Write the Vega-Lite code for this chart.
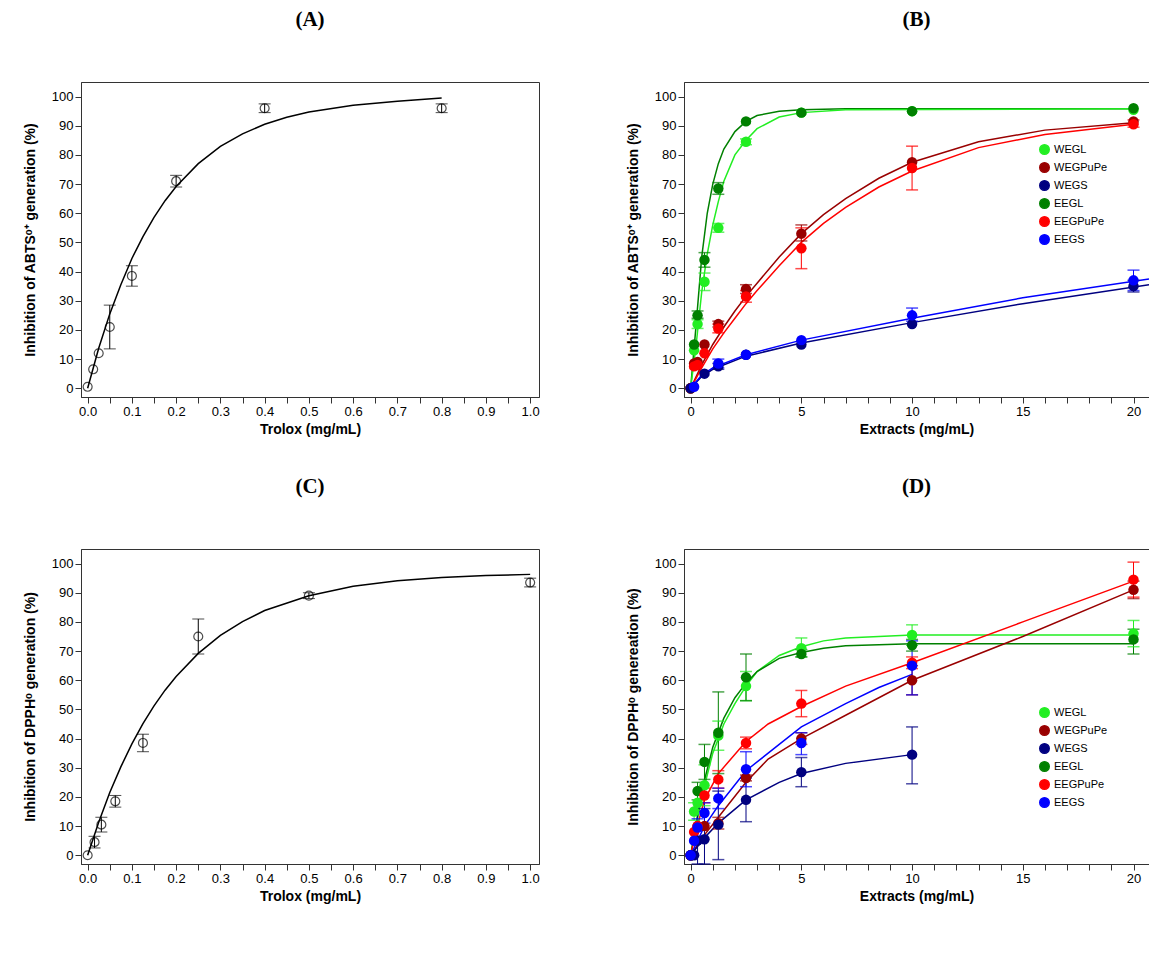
{
"$schema":"https://vega.github.io/schema/vega-lite/v6.json",
"background":"white",
"padding":{"left":22,"top":8,"right":5,"bottom":5},
"resolve":{"scale":{"color":"independent"},"legend":{"color":"independent"}},
"config":{"view":{"stroke":"#333","strokeWidth":1},"font":"Liberation Sans",
"axis":{"grid":false,"domainColor":"#333","tickColor":"#333","labelColor":"black","titleColor":"black","labelFontSize":13,"titleFontSize":14,"titleFontWeight":"bold","labelFont":"Liberation Sans","titleFont":"Liberation Sans","tickSize":6},
"axisY":{"titlePadding":14},
"title":{"font":"Liberation Serif","fontSize":21,"fontWeight":"bold","offset":52,"color":"black"}},
"spacing":38,
"datasets":{
"A":[
{"s":"T","x":0,"y":0.5,"k":"pt"},{"s":"T","x":0.0125,"y":6.5,"k":"pt"},{"s":"T","x":0.025,"y":12,"k":"pt"},{"s":"T","x":0.05,"y":21,"lo":13.5,"hi":28.5,"k":"pt"},{"s":"T","x":0.1,"y":38.5,"lo":35,"hi":42,"k":"pt"},{"s":"T","x":0.2,"y":71,"lo":69,"hi":73,"k":"pt"},{"s":"T","x":0.4,"y":96,"lo":94.5,"hi":97.5,"k":"pt"},{"s":"T","x":0.8,"y":96,"lo":94.5,"hi":97.5,"k":"pt"},
{"s":"T","x":0,"y":0,"k":"fit"},{"s":"T","x":0.025,"y":13.7,"k":"fit"},{"s":"T","x":0.05,"y":25.5,"k":"fit"},{"s":"T","x":0.075,"y":35.5,"k":"fit"},{"s":"T","x":0.1,"y":44.5,"k":"fit"},{"s":"T","x":0.125,"y":52,"k":"fit"},{"s":"T","x":0.15,"y":58.6,"k":"fit"},{"s":"T","x":0.175,"y":64.3,"k":"fit"},{"s":"T","x":0.2,"y":69.2,"k":"fit"},{"s":"T","x":0.25,"y":77,"k":"fit"},{"s":"T","x":0.3,"y":82.9,"k":"fit"},{"s":"T","x":0.35,"y":87.2,"k":"fit"},{"s":"T","x":0.4,"y":90.5,"k":"fit"},{"s":"T","x":0.45,"y":92.9,"k":"fit"},{"s":"T","x":0.5,"y":94.7,"k":"fit"},{"s":"T","x":0.6,"y":97,"k":"fit"},{"s":"T","x":0.7,"y":98.4,"k":"fit"},{"s":"T","x":0.8,"y":99.5,"k":"fit"}],
"C":[
{"s":"T","x":0,"y":0,"k":"pt"},{"s":"T","x":0.0156,"y":4.5,"lo":2.5,"hi":6.5,"k":"pt"},{"s":"T","x":0.031,"y":10.5,"lo":8,"hi":13,"k":"pt"},{"s":"T","x":0.0625,"y":18.5,"lo":16.5,"hi":20.5,"k":"pt"},{"s":"T","x":0.125,"y":38.5,"lo":35.5,"hi":41.5,"k":"pt"},{"s":"T","x":0.25,"y":75,"lo":69,"hi":81,"k":"pt"},{"s":"T","x":0.5,"y":89,"lo":88,"hi":90,"k":"pt"},{"s":"T","x":1.0,"y":93.5,"lo":92,"hi":95,"k":"pt"},
{"s":"T","x":0,"y":0,"k":"fit"},{"s":"T","x":0.025,"y":11.3,"k":"fit"},{"s":"T","x":0.05,"y":21.5,"k":"fit"},{"s":"T","x":0.075,"y":30.3,"k":"fit"},{"s":"T","x":0.1,"y":38.2,"k":"fit"},{"s":"T","x":0.125,"y":45.1,"k":"fit"},{"s":"T","x":0.15,"y":51.2,"k":"fit"},{"s":"T","x":0.175,"y":56.6,"k":"fit"},{"s":"T","x":0.2,"y":61.3,"k":"fit"},{"s":"T","x":0.25,"y":69.2,"k":"fit"},{"s":"T","x":0.3,"y":75.4,"k":"fit"},{"s":"T","x":0.35,"y":80.1,"k":"fit"},{"s":"T","x":0.4,"y":83.9,"k":"fit"},{"s":"T","x":0.5,"y":89,"k":"fit"},{"s":"T","x":0.6,"y":92.2,"k":"fit"},{"s":"T","x":0.7,"y":94.1,"k":"fit"},{"s":"T","x":0.8,"y":95.2,"k":"fit"},{"s":"T","x":0.9,"y":95.9,"k":"fit"},{"s":"T","x":1.0,"y":96.3,"k":"fit"}],
"B":[
{"s":"WEGL","x":0,"y":0,"k":"pt"},{"s":"WEGL","x":0.156,"y":13,"k":"pt"},{"s":"WEGL","x":0.3125,"y":22,"lo":20.5,"hi":23.5,"k":"pt"},{"s":"WEGL","x":0.625,"y":36.5,"lo":33.5,"hi":39.5,"k":"pt"},{"s":"WEGL","x":1.25,"y":55,"lo":53.5,"hi":56.5,"k":"pt"},{"s":"WEGL","x":2.5,"y":84.5,"lo":83.5,"hi":85.5,"k":"pt"},{"s":"WEGL","x":5,"y":94.5,"k":"pt"},{"s":"WEGL","x":10,"y":95,"k":"pt"},{"s":"WEGL","x":20,"y":95.5,"k":"pt"},
{"s":"EEGL","x":0,"y":0,"k":"pt"},{"s":"EEGL","x":0.156,"y":15,"k":"pt"},{"s":"EEGL","x":0.3125,"y":25,"lo":24,"hi":26.5,"k":"pt"},{"s":"EEGL","x":0.625,"y":44,"lo":41.5,"hi":46.5,"k":"pt"},{"s":"EEGL","x":1.25,"y":68.5,"lo":66.5,"hi":70.5,"k":"pt"},{"s":"EEGL","x":2.5,"y":91.5,"k":"pt"},{"s":"EEGL","x":5,"y":94.5,"k":"pt"},{"s":"EEGL","x":10,"y":95,"k":"pt"},{"s":"EEGL","x":20,"y":96,"k":"pt"},
{"s":"WEGPuPe","x":0,"y":0,"k":"pt"},{"s":"WEGPuPe","x":0.156,"y":8.5,"k":"pt"},{"s":"WEGPuPe","x":0.3125,"y":9,"k":"pt"},{"s":"WEGPuPe","x":0.625,"y":15,"k":"pt"},{"s":"WEGPuPe","x":1.25,"y":22,"lo":21,"hi":23,"k":"pt"},{"s":"WEGPuPe","x":2.5,"y":34,"lo":32.5,"hi":35.5,"k":"pt"},{"s":"WEGPuPe","x":5,"y":53,"lo":50.5,"hi":56,"k":"pt"},{"s":"WEGPuPe","x":10,"y":77.5,"k":"pt"},{"s":"WEGPuPe","x":20,"y":91.5,"k":"pt"},
{"s":"EEGPuPe","x":0,"y":0,"k":"pt"},{"s":"EEGPuPe","x":0.156,"y":7.5,"k":"pt"},{"s":"EEGPuPe","x":0.3125,"y":8,"k":"pt"},{"s":"EEGPuPe","x":0.625,"y":12,"k":"pt"},{"s":"EEGPuPe","x":1.25,"y":20.5,"lo":19,"hi":22,"k":"pt"},{"s":"EEGPuPe","x":2.5,"y":31.5,"lo":29.5,"hi":33.5,"k":"pt"},{"s":"EEGPuPe","x":5,"y":48,"lo":41,"hi":55,"k":"pt"},{"s":"EEGPuPe","x":10,"y":75.5,"lo":68,"hi":83,"k":"pt"},{"s":"EEGPuPe","x":20,"y":90.5,"lo":89.5,"hi":92,"k":"pt"},
{"s":"WEGS","x":0,"y":0,"k":"pt"},{"s":"WEGS","x":0.625,"y":5,"k":"pt"},{"s":"WEGS","x":1.25,"y":7.5,"lo":6.5,"hi":8.5,"k":"pt"},{"s":"WEGS","x":2.5,"y":11.5,"k":"pt"},{"s":"WEGS","x":5,"y":15,"k":"pt"},{"s":"WEGS","x":10,"y":22,"k":"pt"},{"s":"WEGS","x":20,"y":35,"lo":33,"hi":37,"k":"pt"},
{"s":"EEGS","x":0.156,"y":0.5,"k":"pt"},{"s":"EEGS","x":1.25,"y":8.5,"lo":7,"hi":10,"k":"pt"},{"s":"EEGS","x":2.5,"y":11.5,"k":"pt"},{"s":"EEGS","x":5,"y":16.5,"k":"pt"},{"s":"EEGS","x":10,"y":25,"lo":23,"hi":27.5,"k":"pt"},{"s":"EEGS","x":20,"y":37,"lo":33.5,"hi":40.5,"k":"pt"},
{"s":"EEGL","x":0,"y":0,"k":"fit"},{"s":"EEGL","x":0.25,"y":22,"k":"fit"},{"s":"EEGL","x":0.5,"y":45,"k":"fit"},{"s":"EEGL","x":0.75,"y":60,"k":"fit"},{"s":"EEGL","x":1,"y":70,"k":"fit"},{"s":"EEGL","x":1.25,"y":77,"k":"fit"},{"s":"EEGL","x":1.5,"y":82,"k":"fit"},{"s":"EEGL","x":2,"y":88,"k":"fit"},{"s":"EEGL","x":2.5,"y":91.5,"k":"fit"},{"s":"EEGL","x":3,"y":93.5,"k":"fit"},{"s":"EEGL","x":4,"y":95,"k":"fit"},{"s":"EEGL","x":5,"y":95.5,"k":"fit"},{"s":"EEGL","x":7,"y":95.8,"k":"fit"},{"s":"EEGL","x":20,"y":95.8,"k":"fit"},
{"s":"WEGL","x":0,"y":0,"k":"fit"},{"s":"WEGL","x":0.25,"y":15,"k":"fit"},{"s":"WEGL","x":0.5,"y":33,"k":"fit"},{"s":"WEGL","x":0.75,"y":46,"k":"fit"},{"s":"WEGL","x":1,"y":56,"k":"fit"},{"s":"WEGL","x":1.25,"y":64,"k":"fit"},{"s":"WEGL","x":1.5,"y":71,"k":"fit"},{"s":"WEGL","x":2,"y":80,"k":"fit"},{"s":"WEGL","x":2.5,"y":85,"k":"fit"},{"s":"WEGL","x":3,"y":89,"k":"fit"},{"s":"WEGL","x":4,"y":93,"k":"fit"},{"s":"WEGL","x":5,"y":94.5,"k":"fit"},{"s":"WEGL","x":7,"y":95.5,"k":"fit"},{"s":"WEGL","x":20,"y":95.8,"k":"fit"},
{"s":"WEGPuPe","x":0,"y":0,"k":"fit"},{"s":"WEGPuPe","x":0.25,"y":4,"k":"fit"},{"s":"WEGPuPe","x":0.5,"y":8,"k":"fit"},{"s":"WEGPuPe","x":1,"y":15,"k":"fit"},{"s":"WEGPuPe","x":1.5,"y":21,"k":"fit"},{"s":"WEGPuPe","x":2,"y":26.5,"k":"fit"},{"s":"WEGPuPe","x":2.5,"y":31.5,"k":"fit"},{"s":"WEGPuPe","x":3,"y":36,"k":"fit"},{"s":"WEGPuPe","x":4,"y":45,"k":"fit"},{"s":"WEGPuPe","x":5,"y":53,"k":"fit"},{"s":"WEGPuPe","x":6,"y":59.5,"k":"fit"},{"s":"WEGPuPe","x":7,"y":65,"k":"fit"},{"s":"WEGPuPe","x":8.5,"y":72,"k":"fit"},{"s":"WEGPuPe","x":10,"y":77.5,"k":"fit"},{"s":"WEGPuPe","x":13,"y":84.5,"k":"fit"},{"s":"WEGPuPe","x":16,"y":88.5,"k":"fit"},{"s":"WEGPuPe","x":20,"y":91,"k":"fit"},
{"s":"EEGPuPe","x":0,"y":0,"k":"fit"},{"s":"EEGPuPe","x":0.25,"y":3.5,"k":"fit"},{"s":"EEGPuPe","x":0.5,"y":7,"k":"fit"},{"s":"EEGPuPe","x":1,"y":13.5,"k":"fit"},{"s":"EEGPuPe","x":1.5,"y":19,"k":"fit"},{"s":"EEGPuPe","x":2,"y":24,"k":"fit"},{"s":"EEGPuPe","x":2.5,"y":29,"k":"fit"},{"s":"EEGPuPe","x":3,"y":33.5,"k":"fit"},{"s":"EEGPuPe","x":4,"y":42,"k":"fit"},{"s":"EEGPuPe","x":5,"y":50,"k":"fit"},{"s":"EEGPuPe","x":6,"y":56.5,"k":"fit"},{"s":"EEGPuPe","x":7,"y":62,"k":"fit"},{"s":"EEGPuPe","x":8.5,"y":69,"k":"fit"},{"s":"EEGPuPe","x":10,"y":74.5,"k":"fit"},{"s":"EEGPuPe","x":13,"y":82.5,"k":"fit"},{"s":"EEGPuPe","x":16,"y":87,"k":"fit"},{"s":"EEGPuPe","x":20,"y":90.5,"k":"fit"},
{"s":"WEGS","x":0,"y":0,"k":"fit"},{"s":"WEGS","x":0.5,"y":4,"k":"fit"},{"s":"WEGS","x":1,"y":6.5,"k":"fit"},{"s":"WEGS","x":2.5,"y":11,"k":"fit"},{"s":"WEGS","x":5,"y":15.5,"k":"fit"},{"s":"WEGS","x":10,"y":22.5,"k":"fit"},{"s":"WEGS","x":15,"y":29,"k":"fit"},{"s":"WEGS","x":20.7,"y":35.5,"k":"fit"},
{"s":"EEGS","x":0,"y":0,"k":"fit"},{"s":"EEGS","x":0.5,"y":4.5,"k":"fit"},{"s":"EEGS","x":1,"y":7,"k":"fit"},{"s":"EEGS","x":2.5,"y":11.5,"k":"fit"},{"s":"EEGS","x":5,"y":16.5,"k":"fit"},{"s":"EEGS","x":10,"y":24,"k":"fit"},{"s":"EEGS","x":15,"y":31,"k":"fit"},{"s":"EEGS","x":20.7,"y":37.5,"k":"fit"}],
"D":[
{"s":"WEGL","x":0,"y":0,"k":"pt"},{"s":"WEGL","x":0.156,"y":15,"lo":12,"hi":18,"k":"pt"},{"s":"WEGL","x":0.3125,"y":18,"k":"pt"},{"s":"WEGL","x":0.625,"y":24,"lo":17,"hi":31,"k":"pt"},{"s":"WEGL","x":1.25,"y":41,"lo":36,"hi":46,"k":"pt"},{"s":"WEGL","x":2.5,"y":58,"lo":53,"hi":63,"k":"pt"},{"s":"WEGL","x":5,"y":71,"lo":68,"hi":74.5,"k":"pt"},{"s":"WEGL","x":10,"y":75.5,"lo":72,"hi":79,"k":"pt"},{"s":"WEGL","x":20,"y":76,"lo":71.5,"hi":80.5,"k":"pt"},
{"s":"EEGL","x":0,"y":0,"k":"pt"},{"s":"EEGL","x":0.3125,"y":22,"lo":19,"hi":25,"k":"pt"},{"s":"EEGL","x":0.625,"y":32,"lo":26,"hi":38,"k":"pt"},{"s":"EEGL","x":1.25,"y":42,"lo":28,"hi":56,"k":"pt"},{"s":"EEGL","x":2.5,"y":61,"lo":53,"hi":69,"k":"pt"},{"s":"EEGL","x":5,"y":69,"lo":68,"hi":70.5,"k":"pt"},{"s":"EEGL","x":10,"y":72,"lo":70,"hi":74,"k":"pt"},{"s":"EEGL","x":20,"y":74,"lo":69,"hi":77.5,"k":"pt"},
{"s":"WEGPuPe","x":0,"y":0,"k":"pt"},{"s":"WEGPuPe","x":0.3125,"y":10,"k":"pt"},{"s":"WEGPuPe","x":0.625,"y":10,"k":"pt"},{"s":"WEGPuPe","x":1.25,"y":11,"lo":9,"hi":13,"k":"pt"},{"s":"WEGPuPe","x":2.5,"y":26.5,"lo":25.5,"hi":27.5,"k":"pt"},{"s":"WEGPuPe","x":5,"y":40,"lo":38,"hi":42,"k":"pt"},{"s":"WEGPuPe","x":10,"y":60,"lo":55,"hi":65,"k":"pt"},{"s":"WEGPuPe","x":20,"y":91,"lo":88,"hi":94,"k":"pt"},
{"s":"EEGPuPe","x":0,"y":0,"k":"pt"},{"s":"EEGPuPe","x":0.156,"y":8,"k":"pt"},{"s":"EEGPuPe","x":0.3125,"y":10,"k":"pt"},{"s":"EEGPuPe","x":0.625,"y":20.5,"lo":18,"hi":23,"k":"pt"},{"s":"EEGPuPe","x":1.25,"y":26,"lo":23,"hi":29,"k":"pt"},{"s":"EEGPuPe","x":2.5,"y":38.5,"lo":36.5,"hi":40.5,"k":"pt"},{"s":"EEGPuPe","x":5,"y":52,"lo":47.5,"hi":56.5,"k":"pt"},{"s":"EEGPuPe","x":10,"y":66,"lo":64,"hi":68,"k":"pt"},{"s":"EEGPuPe","x":20,"y":94.5,"lo":88.5,"hi":100.5,"k":"pt"},
{"s":"WEGS","x":0,"y":0,"k":"pt"},{"s":"WEGS","x":0.156,"y":0,"k":"pt"},{"s":"WEGS","x":0.3125,"y":5,"lo":-5,"hi":15,"k":"pt"},{"s":"WEGS","x":0.625,"y":5.5,"lo":-5,"hi":16,"k":"pt"},{"s":"WEGS","x":1.25,"y":10.5,"lo":-1.5,"hi":22,"k":"pt"},{"s":"WEGS","x":2.5,"y":19,"lo":11.5,"hi":26.5,"k":"pt"},{"s":"WEGS","x":5,"y":28.5,"lo":23.5,"hi":33.5,"k":"pt"},{"s":"WEGS","x":10,"y":34.5,"lo":24.5,"hi":44,"k":"pt"},
{"s":"EEGS","x":0,"y":0,"k":"pt"},{"s":"EEGS","x":0.156,"y":5,"k":"pt"},{"s":"EEGS","x":0.3125,"y":9.5,"lo":6.5,"hi":12.5,"k":"pt"},{"s":"EEGS","x":0.625,"y":14.5,"lo":11,"hi":18,"k":"pt"},{"s":"EEGS","x":1.25,"y":19.5,"lo":16,"hi":23,"k":"pt"},{"s":"EEGS","x":2.5,"y":29.5,"lo":23.5,"hi":35.5,"k":"pt"},{"s":"EEGS","x":5,"y":38.5,"lo":34.5,"hi":42,"k":"pt"},{"s":"EEGS","x":10,"y":65,"lo":55,"hi":73.5,"k":"pt"},
{"s":"WEGL","x":0,"y":0,"k":"fit"},{"s":"WEGL","x":0.5,"y":20,"k":"fit"},{"s":"WEGL","x":1,"y":35,"k":"fit"},{"s":"WEGL","x":1.5,"y":45,"k":"fit"},{"s":"WEGL","x":2,"y":52,"k":"fit"},{"s":"WEGL","x":2.5,"y":58,"k":"fit"},{"s":"WEGL","x":3,"y":63,"k":"fit"},{"s":"WEGL","x":4,"y":68.5,"k":"fit"},{"s":"WEGL","x":5,"y":71.5,"k":"fit"},{"s":"WEGL","x":6,"y":73.5,"k":"fit"},{"s":"WEGL","x":7,"y":74.5,"k":"fit"},{"s":"WEGL","x":10,"y":75.5,"k":"fit"},{"s":"WEGL","x":20,"y":75.5,"k":"fit"},
{"s":"EEGL","x":0,"y":0,"k":"fit"},{"s":"EEGL","x":0.5,"y":22,"k":"fit"},{"s":"EEGL","x":1,"y":37,"k":"fit"},{"s":"EEGL","x":1.5,"y":47,"k":"fit"},{"s":"EEGL","x":2,"y":54,"k":"fit"},{"s":"EEGL","x":2.5,"y":59,"k":"fit"},{"s":"EEGL","x":3,"y":63,"k":"fit"},{"s":"EEGL","x":4,"y":67.5,"k":"fit"},{"s":"EEGL","x":5,"y":69.5,"k":"fit"},{"s":"EEGL","x":6,"y":71,"k":"fit"},{"s":"EEGL","x":7,"y":71.8,"k":"fit"},{"s":"EEGL","x":10,"y":72.5,"k":"fit"},{"s":"EEGL","x":20,"y":72.5,"k":"fit"},
{"s":"EEGPuPe","x":0,"y":0,"k":"fit"},{"s":"EEGPuPe","x":0.3,"y":10,"k":"fit"},{"s":"EEGPuPe","x":0.625,"y":19,"k":"fit"},{"s":"EEGPuPe","x":1.25,"y":28,"k":"fit"},{"s":"EEGPuPe","x":2.5,"y":39,"k":"fit"},{"s":"EEGPuPe","x":3.5,"y":45,"k":"fit"},{"s":"EEGPuPe","x":5,"y":51,"k":"fit"},{"s":"EEGPuPe","x":7,"y":58,"k":"fit"},{"s":"EEGPuPe","x":10,"y":66,"k":"fit"},{"s":"EEGPuPe","x":15,"y":80,"k":"fit"},{"s":"EEGPuPe","x":20,"y":94,"k":"fit"},
{"s":"WEGPuPe","x":0,"y":0,"k":"fit"},{"s":"WEGPuPe","x":0.625,"y":7,"k":"fit"},{"s":"WEGPuPe","x":1.25,"y":13,"k":"fit"},{"s":"WEGPuPe","x":2.5,"y":25,"k":"fit"},{"s":"WEGPuPe","x":3.5,"y":33,"k":"fit"},{"s":"WEGPuPe","x":5,"y":40,"k":"fit"},{"s":"WEGPuPe","x":7,"y":48,"k":"fit"},{"s":"WEGPuPe","x":10,"y":60,"k":"fit"},{"s":"WEGPuPe","x":15,"y":75,"k":"fit"},{"s":"WEGPuPe","x":20,"y":91,"k":"fit"},
{"s":"EEGS","x":0,"y":0,"k":"fit"},{"s":"EEGS","x":0.625,"y":10,"k":"fit"},{"s":"EEGS","x":1.25,"y":17,"k":"fit"},{"s":"EEGS","x":2.5,"y":29,"k":"fit"},{"s":"EEGS","x":4,"y":38,"k":"fit"},{"s":"EEGS","x":5,"y":44,"k":"fit"},{"s":"EEGS","x":7,"y":52,"k":"fit"},{"s":"EEGS","x":8.5,"y":57.5,"k":"fit"},{"s":"EEGS","x":10,"y":62,"k":"fit"},
{"s":"WEGS","x":0,"y":0,"k":"fit"},{"s":"WEGS","x":0.625,"y":6,"k":"fit"},{"s":"WEGS","x":1.25,"y":11,"k":"fit"},{"s":"WEGS","x":2.5,"y":19,"k":"fit"},{"s":"WEGS","x":4,"y":25,"k":"fit"},{"s":"WEGS","x":5,"y":28,"k":"fit"},{"s":"WEGS","x":7,"y":31.5,"k":"fit"},{"s":"WEGS","x":10,"y":34.5,"k":"fit"}]
},
"vconcat":[
{"hconcat":[
{"title":"(A)","width":458,"height":315,"data":{"name":"A"},
"encoding":{"x":{"field":"x","type":"quantitative","scale":{"domain":[-0.015,1.02],"nice":false},"axis":{"title":"Trolox (mg/mL)","values":[0,0.05,0.1,0.15,0.2,0.25,0.3,0.35,0.4,0.45,0.5,0.55,0.6,0.65,0.7,0.75,0.8,0.85,0.9,0.95,1.0],"labelExpr":"round(datum.value*100)%10==0 ? format(datum.value,'.1f') : ''"}},
"y":{"field":"y","type":"quantitative","scale":{"domain":[-3,105],"nice":false},"axis":{"title":"Inhibition of ABTSᵒ⁺ generation (%)","values":[0,10,20,30,40,50,60,70,80,90,100]}}},
"layer":[
{"transform":[{"filter":"datum.k=='fit'"}],"mark":{"type":"line","color":"black","strokeWidth":1.5}},
{"transform":[{"filter":"isValid(datum.lo)"}],"mark":{"type":"rule","color":"black"},"encoding":{"y":{"field":"lo","type":"quantitative"},"y2":{"field":"hi"}}},
{"transform":[{"filter":"isValid(datum.lo)"}],"mark":{"type":"tick","orient":"horizontal","color":"black","size":12,"thickness":1},"encoding":{"y":{"field":"lo","type":"quantitative"}}},
{"transform":[{"filter":"isValid(datum.lo)"}],"mark":{"type":"tick","orient":"horizontal","color":"black","size":12,"thickness":1},"encoding":{"y":{"field":"hi","type":"quantitative"}}},
{"transform":[{"filter":"datum.k=='pt'"}],"mark":{"type":"point","shape":"circle","color":"black","size":80,"strokeWidth":1.2,"filled":false}}]},
{"title":"(B)","width":465,"height":315,"data":{"name":"B"},
"encoding":{"x":{"field":"x","type":"quantitative","scale":{"domain":[-0.3,20.7],"nice":false},"axis":{"title":"Extracts (mg/mL)","values":[0,1,2,3,4,5,6,7,8,9,10,11,12,13,14,15,16,17,18,19,20],"labelExpr":"datum.value%5==0 ? datum.label : ''"}},
"y":{"field":"y","type":"quantitative","scale":{"domain":[-3,105],"nice":false},"axis":{"title":"Inhibition of ABTSᵒ⁺ generation (%)","values":[0,10,20,30,40,50,60,70,80,90,100]}},
"color":{"field":"s","type":"nominal","scale":{"domain":["WEGL","WEGPuPe","WEGS","EEGL","EEGPuPe","EEGS"],"range":["#22ee22","#990000","#000080","#008000","#ff0000","#0000ff"]},"legend":{"title":null,"orient":"none","legendX":355,"legendY":62,"labelFontSize":11,"symbolType":"circle","symbolSize":90,"symbolOpacity":1,"rowPadding":1}}},
"layer":[
{"transform":[{"filter":"datum.k=='fit'"}],"mark":{"type":"line","strokeWidth":1.5}},
{"transform":[{"filter":"isValid(datum.lo)"}],"mark":{"type":"rule"},"encoding":{"y":{"field":"lo","type":"quantitative"},"y2":{"field":"hi"}}},
{"transform":[{"filter":"isValid(datum.lo)"}],"mark":{"type":"tick","orient":"horizontal","size":12,"thickness":1.5},"encoding":{"y":{"field":"lo","type":"quantitative"}}},
{"transform":[{"filter":"isValid(datum.lo)"}],"mark":{"type":"tick","orient":"horizontal","size":12,"thickness":1.5},"encoding":{"y":{"field":"hi","type":"quantitative"}}},
{"transform":[{"filter":"datum.k=='pt'"}],"mark":{"type":"circle","size":110,"opacity":1}}]}
],"spacing":85,"resolve":{"scale":{"color":"independent"},"legend":{"color":"independent"}}},
{"hconcat":[
{"title":"(C)","width":458,"height":315,"data":{"name":"C"},
"encoding":{"x":{"field":"x","type":"quantitative","scale":{"domain":[-0.015,1.02],"nice":false},"axis":{"title":"Trolox (mg/mL)","values":[0,0.05,0.1,0.15,0.2,0.25,0.3,0.35,0.4,0.45,0.5,0.55,0.6,0.65,0.7,0.75,0.8,0.85,0.9,0.95,1.0],"labelExpr":"round(datum.value*100)%10==0 ? format(datum.value,'.1f') : ''"}},
"y":{"field":"y","type":"quantitative","scale":{"domain":[-3,105],"nice":false},"axis":{"title":"Inhibition of DPPHᵒ generation (%)","values":[0,10,20,30,40,50,60,70,80,90,100]}}},
"layer":[
{"transform":[{"filter":"datum.k=='fit'"}],"mark":{"type":"line","color":"black","strokeWidth":1.5}},
{"transform":[{"filter":"isValid(datum.lo)"}],"mark":{"type":"rule","color":"black"},"encoding":{"y":{"field":"lo","type":"quantitative"},"y2":{"field":"hi"}}},
{"transform":[{"filter":"isValid(datum.lo)"}],"mark":{"type":"tick","orient":"horizontal","color":"black","size":12,"thickness":1},"encoding":{"y":{"field":"lo","type":"quantitative"}}},
{"transform":[{"filter":"isValid(datum.lo)"}],"mark":{"type":"tick","orient":"horizontal","color":"black","size":12,"thickness":1},"encoding":{"y":{"field":"hi","type":"quantitative"}}},
{"transform":[{"filter":"datum.k=='pt'"}],"mark":{"type":"point","shape":"circle","color":"black","size":80,"strokeWidth":1.2,"filled":false}}]},
{"title":"(D)","width":465,"height":315,"data":{"name":"D"},
"encoding":{"x":{"field":"x","type":"quantitative","scale":{"domain":[-0.3,20.7],"nice":false},"axis":{"title":"Extracts (mg/mL)","values":[0,1,2,3,4,5,6,7,8,9,10,11,12,13,14,15,16,17,18,19,20],"labelExpr":"datum.value%5==0 ? datum.label : ''"}},
"y":{"field":"y","type":"quantitative","scale":{"domain":[-3,105],"nice":false,"clamp":true},"axis":{"title":"Inhibition of DPPHᵒ genereation (%)","values":[0,10,20,30,40,50,60,70,80,90,100]}},
"color":{"field":"s","type":"nominal","scale":{"domain":["WEGL","WEGPuPe","WEGS","EEGL","EEGPuPe","EEGS"],"range":["#22ee22","#990000","#000080","#008000","#ff0000","#0000ff"]},"legend":{"title":null,"orient":"none","legendX":355,"legendY":158,"labelFontSize":11,"symbolType":"circle","symbolSize":90,"symbolOpacity":1,"rowPadding":1}}},
"layer":[
{"transform":[{"filter":"datum.k=='fit'"}],"mark":{"type":"line","strokeWidth":1.5}},
{"transform":[{"filter":"isValid(datum.lo)"}],"mark":{"type":"rule"},"encoding":{"y":{"field":"lo","type":"quantitative"},"y2":{"field":"hi"}}},
{"transform":[{"filter":"isValid(datum.lo)"}],"mark":{"type":"tick","orient":"horizontal","size":12,"thickness":1.5},"encoding":{"y":{"field":"lo","type":"quantitative"}}},
{"transform":[{"filter":"isValid(datum.lo)"}],"mark":{"type":"tick","orient":"horizontal","size":12,"thickness":1.5},"encoding":{"y":{"field":"hi","type":"quantitative"}}},
{"transform":[{"filter":"datum.k=='pt'"}],"mark":{"type":"circle","size":110,"opacity":1}}]}
],"spacing":85,"resolve":{"scale":{"color":"independent"},"legend":{"color":"independent"}}}
]
}
